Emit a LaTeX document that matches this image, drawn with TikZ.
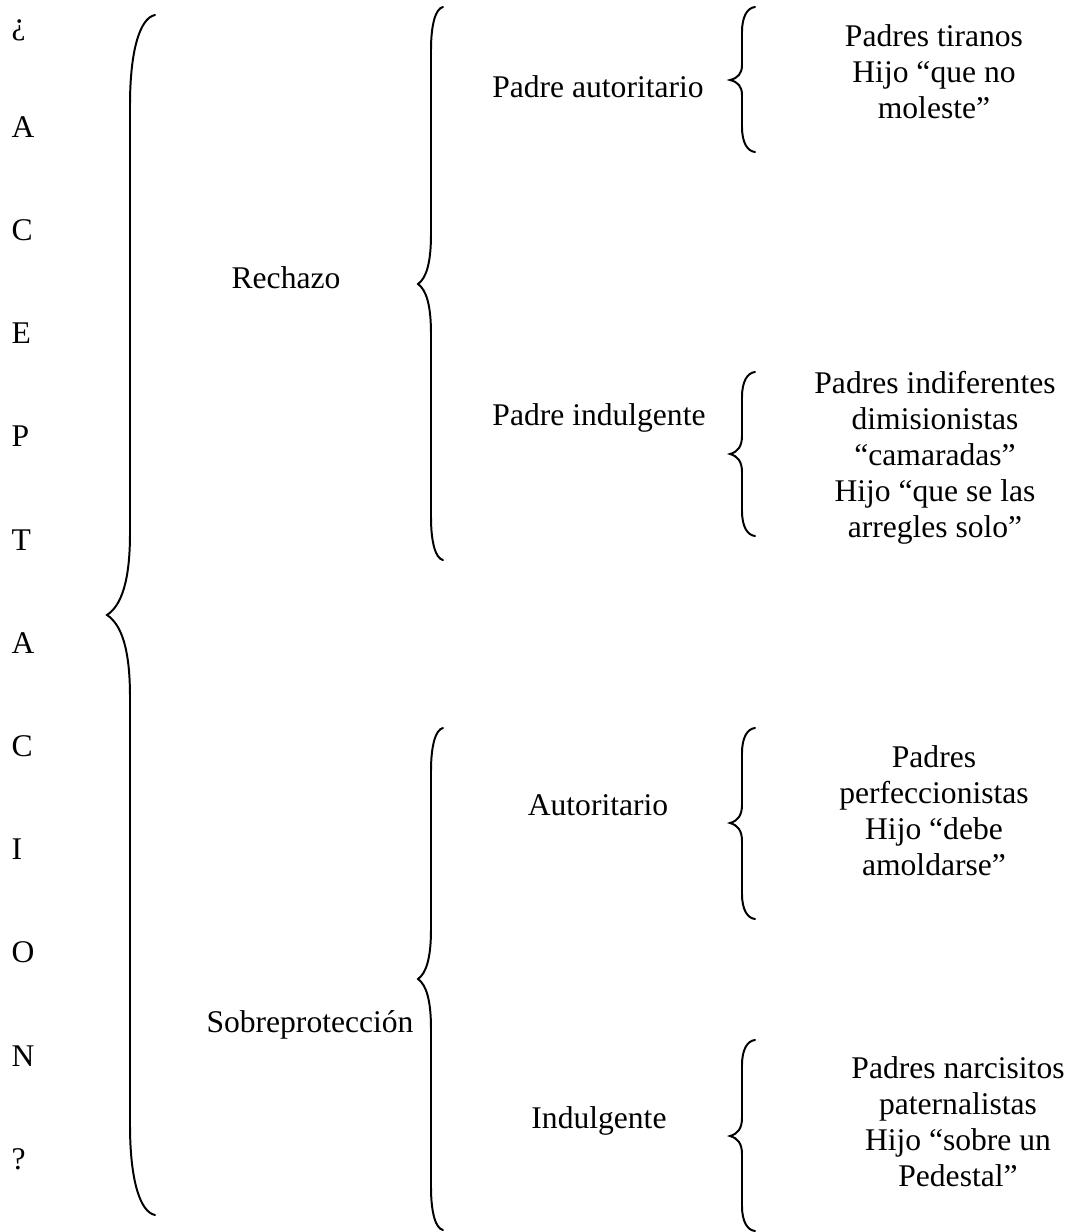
\documentclass[tikz,border=0pt]{standalone}
\usepackage{fontspec}
\setmainfont{Liberation Serif}
\usepackage{tikz}

% llave: {x punta extremos}{x linea}{x pico}{y arriba}{y pico}{y abajo}{curva extremo}{curva pico}
\newcommand{\llave}[8]{%
  \draw[llavelinea] (#1,#4) .. controls ({#1-0.6*(#1-#2)},{#4+0.033*#7}) and (#2,{#4+0.39*#7}) .. (#2,{#4+#7})
    -- (#2,{#5-#8}) .. controls (#2,{#5-0.43*#8}) and ({#2-0.35*(#2-#3)},{#5-0.12*#8}) .. (#3,#5)
    .. controls ({#2-0.35*(#2-#3)},{#5+0.12*#8}) and (#2,{#5+0.43*#8}) .. (#2,{#5+#8})
    -- (#2,{#6-#7}) .. controls (#2,{#6-0.39*#7}) and ({#1-0.6*(#1-#2)},{#6-0.033*#7}) .. (#1,#6);}

\tikzset{
  texto/.style={font=\fontsize{12}{13.7}\selectfont, inner sep=0pt},
  bloque/.style={texto, align=center},
  llavelinea/.style={line width=0.75pt, line cap=round}
}

\begin{document}
\begin{tikzpicture}[x=0.38pt, y=-0.38pt]
    \useasboundingbox (0,0) rectangle (1072,1232);

    % Columna vertical
    \foreach \letra [count=\i from 0] in {¿,A,C,E,P,T,A,C,I,O,N,?}
        \node[texto, anchor=base west] (letra\i) at (11,{34+103.2*\i}) {\letra};

    % Llave principal
    \llave{155}{130}{107}{15}{615}{1215}{90}{82}

    % Segundo nivel
    \node[texto, anchor=base] (rechazo) at (286,288) {Rechazo};
    \node[texto, anchor=base] (sobre) at (310,1032) {Sobreprotección};
    \llave{443}{431}{418}{7}{284}{560}{43}{50}
    \llave{443}{431}{418}{728}{979}{1230}{43}{50}

    % Tercer nivel
    \node[texto, anchor=base] (pautor) at (598,97) {Padre autoritario};
    \node[texto, anchor=base] (pindul) at (599,425) {Padre indulgente};
    \node[texto, anchor=base] (autor) at (598,815) {Autoritario};
    \node[texto, anchor=base] (indul) at (599,1128) {Indulgente};
    \llave{755}{742}{730}{7}{80}{152}{25}{15}
    \llave{755}{742}{730}{372}{454}{536}{25}{18}
    \llave{755}{742}{730}{728}{823}{919}{25}{18}
    \llave{755}{742}{730}{1040}{1136}{1231}{25}{18}

    % Descripciones
    \node[bloque] (tiranos) at (934,72) {Padres tiranos\\Hijo “que no\\moleste”};
    \node[bloque] (indif) at (935,458) {Padres indiferentes\\dimisionistas\\“camaradas”\\Hijo “que se las\\arregles solo”};
    \node[bloque] (perfec) at (934,811) {Padres\\perfeccionistas\\Hijo “debe\\amoldarse”};
    \node[bloque] (narcis) at (958,1122) {Padres narcisitos\\paternalistas\\Hijo “sobre un\\Pedestal”};
\end{tikzpicture}
\end{document}
